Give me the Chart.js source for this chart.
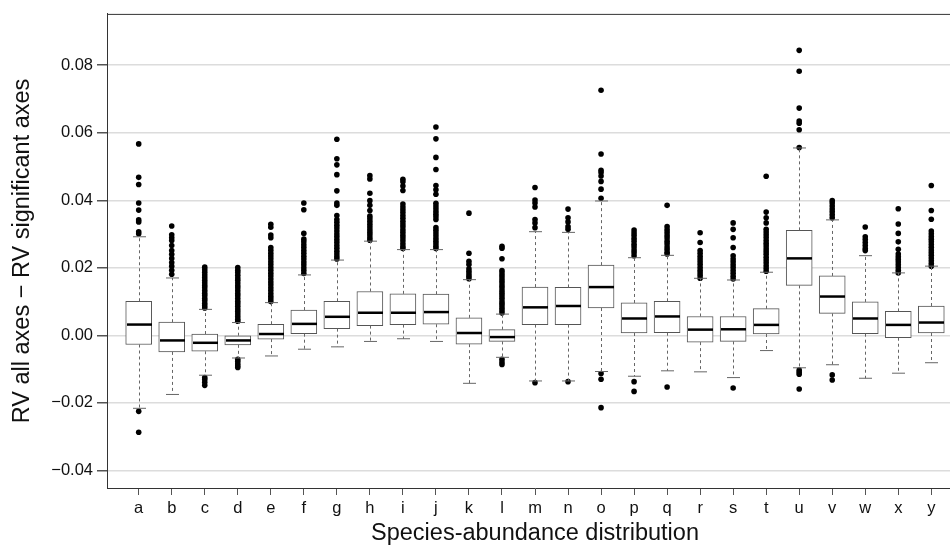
<!DOCTYPE html>
<html>
<head>
<meta charset="utf-8">
<script src="https://cdn.jsdelivr.net/npm/chart.js@4.4.0/dist/chart.umd.min.js"></script>
<style>
  html, body { margin: 0; padding: 0; background: #fff; overflow: hidden; }
  #wrap { width: 950px; height: 552px; overflow: hidden; }
</style>
</head>
<body>
<div id="wrap"><canvas id="grafico" width="980" height="552"></canvas></div>
<script>
// categorias e estatisticas de cada caixa
const categories = ['a','b','c','d','e','f','g','h','i','j','k','l','m','n','o','p','q','r','s','t','u','v','w','x','y'];
const q1 =          [-0.0027,-0.0049,-0.0047,-0.0028,-0.0011,0.0005,0.0020,0.0029,0.0032,0.0033,-0.0026,-0.0018,0.0032,0.0032,0.0081,0.0007,0.0008,-0.0020,-0.0018,0.0004,0.0148,0.0065,0.0005,-0.0007,0.0007];
const median =      [0.0032,-0.0015,-0.0022,-0.0015,0.0004,0.0034,0.0055,0.0067,0.0067,0.0069,0.0007,-0.0005,0.0083,0.0087,0.0143,0.0050,0.0056,0.0017,0.0018,0.0031,0.0228,0.0115,0.0050,0.0031,0.0038];
const q3 =          [0.0101,0.0039,0.0004,-0.0001,0.0033,0.0075,0.0101,0.0130,0.0123,0.0122,0.0052,0.0017,0.0143,0.0142,0.0208,0.0096,0.0101,0.0056,0.0056,0.0079,0.0311,0.0176,0.0099,0.0071,0.0087];
const whiskerLow =  [-0.0216,-0.0175,-0.0118,-0.0067,-0.0061,-0.0041,-0.0034,-0.0018,-0.0010,-0.0018,-0.0142,-0.0065,-0.0135,-0.0135,-0.0107,-0.0121,-0.0105,-0.0108,-0.0125,-0.0045,-0.0096,-0.0087,-0.0127,-0.0112,-0.0081];
const whiskerHigh = [0.0292,0.0170,0.0077,0.0038,0.0097,0.0179,0.0223,0.0279,0.0254,0.0254,0.0165,0.0063,0.0307,0.0305,0.0398,0.0230,0.0237,0.0169,0.0164,0.0187,0.0555,0.0342,0.0236,0.0185,0.0205];

// pontos fora dos bigodes, um array por categoria
const outliers = [
  [0.0567,0.0468,0.0447,0.0392,0.0371,0.0342,0.0336,0.0307,0.0301,-0.0225,-0.0287],
  [0.0324,0.0298,0.0289,0.0281,0.0266,0.0251,0.0240,0.0228,0.0216,0.0205,0.0193,0.0181],
  [0.0202,0.0194,0.0187,0.0179,0.0171,0.0163,0.0156,0.0148,0.0141,0.0133,0.0125,0.0118,0.0110,0.0103,0.0095,0.0088,0.0081,-0.0125,-0.0131,-0.0139,-0.0148],
  [0.0201,0.0193,0.0186,0.0178,0.0170,0.0163,0.0155,0.0147,0.0140,0.0132,0.0124,0.0117,0.0109,0.0101,0.0094,0.0086,0.0078,0.0071,0.0063,0.0056,0.0048,0.0042,-0.0071,-0.0077,-0.0084,-0.0090,-0.0095],
  [0.0329,0.0320,0.0297,0.0289,0.0260,0.0252,0.0243,0.0235,0.0227,0.0218,0.0210,0.0201,0.0193,0.0184,0.0176,0.0167,0.0158,0.0150,0.0141,0.0133,0.0124,0.0116,0.0108,0.0100],
  [0.0392,0.0372,0.0302,0.0285,0.0277,0.0268,0.0260,0.0251,0.0243,0.0234,0.0226,0.0217,0.0209,0.0200,0.0192,0.0183],
  [0.0581,0.0523,0.0505,0.0476,0.0428,0.0392,0.0385,0.0355,0.0343,0.0335,0.0326,0.0318,0.0309,0.0300,0.0292,0.0283,0.0275,0.0266,0.0258,0.0249,0.0241,0.0233,0.0226],
  [0.0473,0.0463,0.0421,0.0399,0.0385,0.0370,0.0353,0.0345,0.0337,0.0329,0.0321,0.0313,0.0305,0.0297,0.0289,0.0282],
  [0.0462,0.0455,0.0442,0.0429,0.0389,0.0380,0.0372,0.0364,0.0355,0.0347,0.0338,0.0330,0.0322,0.0313,0.0305,0.0296,0.0288,0.0280,0.0271,0.0263,0.0257],
  [0.0617,0.0582,0.0527,0.0491,0.0444,0.0431,0.0418,0.0391,0.0383,0.0375,0.0367,0.0359,0.0351,0.0343,0.0319,0.0311,0.0303,0.0295,0.0287,0.0279,0.0271,0.0264,0.0257],
  [0.0362,0.0243,0.0219,0.0210,0.0197,0.0190,0.0182,0.0175,0.0168],
  [0.0264,0.0258,0.0227,0.0192,0.0185,0.0177,0.0170,0.0162,0.0155,0.0147,0.0140,0.0132,0.0125,0.0117,0.0110,0.0102,0.0095,0.0088,0.0080,0.0073,0.0066,-0.0071,-0.0079,-0.0086],
  [0.0438,0.0401,0.0392,0.0380,0.0343,0.0333,0.0319,-0.0140],
  [0.0374,0.0348,0.0336,0.0322,0.0314,-0.0137],
  [0.0726,0.0537,0.0489,0.0482,0.0472,0.0456,0.0433,0.0406,-0.0113,-0.0130,-0.0214],
  [0.0312,0.0304,0.0296,0.0287,0.0279,0.0270,0.0262,0.0253,0.0245,0.0236,-0.0137,-0.0166],
  [0.0385,0.0322,0.0313,0.0305,0.0296,0.0288,0.0279,0.0271,0.0262,0.0254,0.0246,0.0241,-0.0153],
  [0.0304,0.0275,0.0251,0.0243,0.0234,0.0226,0.0218,0.0210,0.0201,0.0193,0.0185,0.0177,0.0169],
  [0.0333,0.0314,0.0289,0.0260,0.0236,0.0226,0.0218,0.0209,0.0201,0.0192,0.0184,0.0175,0.0167,-0.0156],
  [0.0471,0.0365,0.0348,0.0333,0.0314,0.0306,0.0298,0.0290,0.0281,0.0273,0.0265,0.0256,0.0248,0.0240,0.0231,0.0223,0.0215,0.0206,0.0198,0.0190],
  [0.0844,0.0782,0.0673,0.0635,0.0628,0.0609,0.0556,-0.0103,-0.0109,-0.0115,-0.0159],
  [0.0399,0.0392,0.0383,0.0374,0.0366,0.0357,0.0348,-0.0117,-0.0132],
  [0.0321,0.0292,0.0284,0.0275,0.0266,0.0257,0.0251],
  [0.0375,0.0330,0.0302,0.0277,0.0255,0.0241,0.0233,0.0225,0.0217,0.0209,0.0201,0.0193,0.0185],
  [0.0444,0.0370,0.0344,0.0309,0.0301,0.0293,0.0285,0.0277,0.0269,0.0261,0.0253,0.0245,0.0237,0.0229,0.0221,0.0213,0.0205]
];

const yTicks = [-0.04, -0.02, 0.00, 0.02, 0.04, 0.06, 0.08];

const fonte = "'Liberation Sans', Arial, Helvetica, sans-serif";

// caixas como barras flutuantes [q1, q3]
const caixas = categories.map((c, i) => ({ x: i + 1, y: [q1[i], q3[i]] }));
const pontos = [];
outliers.forEach((lista, i) => {
  lista.forEach(v => pontos.push({ x: i + 1, y: v }));
});

// bigodes, medianas e moldura de cima
const boxExtras = {
  id: 'boxExtras',
  afterDatasetsDraw(chart) {
    const { ctx, chartArea, scales: { x, y } } = chart;
    ctx.save();
    const linha = (x1, y1, x2, y2) => {
      ctx.beginPath(); ctx.moveTo(x1, y1); ctx.lineTo(x2, y2); ctx.stroke();
    };
    categories.forEach((c, i) => {
      const px = Math.round(x.getPixelForValue(i + 1)) + 0.5;
      const yq1 = y.getPixelForValue(q1[i]);
      const yq3 = y.getPixelForValue(q3[i]);
      const ylo = y.getPixelForValue(whiskerLow[i]);
      const yhi = y.getPixelForValue(whiskerHigh[i]);
      const ymed = y.getPixelForValue(median[i]);

      ctx.strokeStyle = '#666';
      ctx.lineWidth = 1;
      ctx.setLineDash([3, 3]);
      linha(px, yq3, px, yhi);
      linha(px, yq1, px, ylo);
      ctx.setLineDash([]);
      linha(px - 6.5, yhi, px + 6.5, yhi);
      linha(px - 6.5, ylo, px + 6.5, ylo);

      ctx.strokeStyle = '#000';
      ctx.lineWidth = 2.5;
      linha(px - 12.5, ymed, px + 12.5, ymed);
    });
    ctx.strokeStyle = '#333';
    ctx.lineWidth = 1;
    linha(chartArea.left, chartArea.top + 0.5, chartArea.right, chartArea.top + 0.5);
    ctx.restore();
  }
};

new Chart(document.getElementById('grafico').getContext('2d'), {
  type: 'bar',
  data: {
    datasets: [
      {
        type: 'bar',
        data: caixas,
        backgroundColor: '#ffffff',
        borderColor: '#555555',
        borderWidth: 1,
        borderSkipped: false,
        barThickness: 26,
        order: 2
      },
      {
        type: 'scatter',
        data: pontos,
        backgroundColor: '#000',
        borderColor: '#000',
        pointRadius: 2.8,
        borderWidth: 0,
        showLine: false,
        order: 1
      }
    ]
  },
  options: {
    responsive: false,
    animation: false,
    devicePixelRatio: 1,
    layout: { padding: { top: 9, right: 17, left: 0, bottom: 0 } },
    plugins: {
      legend: { display: false },
      tooltip: { enabled: false }
    },
    scales: {
      x: {
        type: 'linear',
        offset: false,
        min: 0.04,
        max: 25.96,
        afterBuildTicks: (scale) => { scale.ticks = categories.map((c, i) => ({ value: i + 1 })); },
        afterFit: (scale) => { scale.height = 64; },
        ticks: {
          autoSkip: false,
          maxRotation: 0,
          padding: 4,
          color: '#111',
          font: { family: fonte, size: 16.5 },
          callback: (v) => categories[v - 1]
        },
        grid: { offset: false, drawOnChartArea: false, drawTicks: true, tickLength: 7, tickColor: '#555' },
        border: { display: true, color: '#333', width: 1 },
        title: {
          display: true,
          text: 'Species-abundance distribution',
          color: '#111',
          font: { family: fonte, size: 23.5 },
          padding: { top: 0, bottom: 4 }
        }
      },
      y: {
        type: 'linear',
        min: -0.0452,
        max: 0.0952,
        afterBuildTicks: (scale) => { scale.ticks = yTicks.map(v => ({ value: v })); },
        afterFit: (scale) => { scale.width = 107; },
        ticks: {
          padding: 4,
          color: '#111',
          font: { family: fonte, size: 16.5 },
          callback: (v) => v.toFixed(2).replace('-', '\u2212')
        },
        grid: { color: '#dcdcdc', lineWidth: 1.5, tickLength: 10, tickColor: '#555' },
        border: { display: true, color: '#333', width: 1 },
        title: {
          display: true,
          text: 'RV all axes \u2212 RV significant axes',
          color: '#111',
          font: { family: fonte, size: 23.5 },
          padding: { top: 8, bottom: 0 }
        }
      }
    }
  },
  plugins: [boxExtras]
});
</script>
</body>
</html>
